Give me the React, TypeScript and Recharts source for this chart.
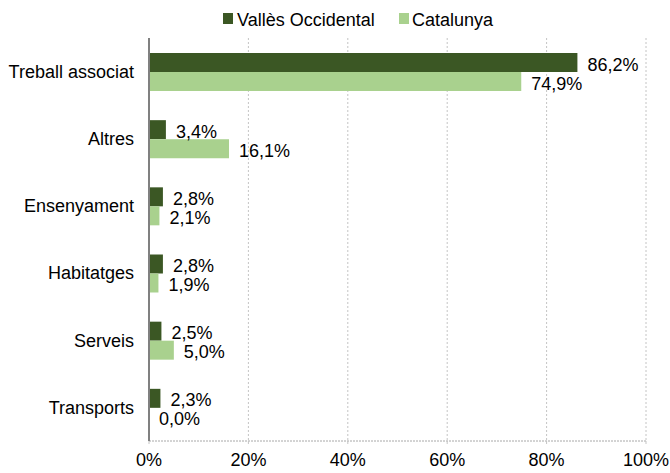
import React from 'react';
import { BarChart, Bar, XAxis, YAxis, CartesianGrid, Legend, LabelList } from 'recharts';

const categories = ['Treball associat', 'Altres', 'Ensenyament', 'Habitatges', 'Serveis', 'Transports'];
const vallesValues = [86.2, 3.4, 2.8, 2.8, 2.5, 2.3];
const catalunyaValues = [74.9, 16.1, 2.1, 1.9, 5.0, 0.0];
const xTicks = [0, 20, 40, 60, 80, 100];
const seriesNames = ['Vallès Occidental', 'Catalunya'];

const DARK = '#3b5724';
const LIGHT = '#a9d18e';
const FONT = '"Liberation Sans", Arial, sans-serif';

const data = categories.map((name, i) => ({
  name,
  valles: vallesValues[i],
  catalunya: catalunyaValues[i],
}));

const fmt = (v: number) => v.toFixed(1).replace('.', ',') + '%';

const renderLabel = (props: any) => {
  const { x, y, width, height, value } = props;
  return (
    <text
      x={Number(x) + Number(width) + 10}
      y={Number(y) + Number(height) / 2 + 8}
      fontSize={18}
      fontFamily={FONT}
      fill="#000"
      textAnchor="start"
    >
      {fmt(Number(value))}
    </text>
  );
};

const renderLegend = () => (
  <svg width={670} height={32} style={{ display: 'block' }}>
    <rect x={223} y={13} width={10} height={11} fill={DARK} />
    <text x={237} y={26} fontSize={18} fontFamily={FONT} fill="#000">{seriesNames[0]}</text>
    <rect x={399} y={13} width={10} height={11} fill={LIGHT} />
    <text x={412} y={26} fontSize={18} fontFamily={FONT} fill="#000">{seriesNames[1]}</text>
  </svg>
);

export default function App() {
  return (
    <div style={{ position: 'absolute', left: 0, top: 0, background: '#fff' }}>
      <BarChart
        width={670}
        height={473}
        data={data}
        layout="vertical"
        margin={{ top: 38, right: 24, bottom: 0, left: 0 }}
        barGap={0}
      >
        <CartesianGrid horizontal={false} vertical={true} stroke="#c4c4c4" strokeDasharray="2 2" />
        <XAxis
          type="number"
          domain={[0, 100]}
          ticks={xTicks}
          tickFormatter={(v: number) => v + '%'}
          height={32}
          axisLine={{ stroke: '#a8a8a8', strokeDasharray: '2 1' }}
          tickLine={{ stroke: '#c4c4c4' }}
          tickSize={3}
          tickMargin={9}
          tick={{ fontSize: 18, fontFamily: FONT, fill: '#000' }}
          interval={0}
        />
        <YAxis
          type="category"
          dataKey="name"
          width={149}
          axisLine={{ stroke: '#808080', strokeWidth: 2 }}
          tickLine={false}
          tickSize={0}
          tickMargin={15}
          tick={{ fontSize: 18, fontFamily: FONT, fill: '#000' }}
          interval={0}
        />
        <Legend
          verticalAlign="middle"
          align="center"
          layout="horizontal"
          wrapperStyle={{ top: 0, left: 0, width: 670, height: 32 }}
          content={renderLegend}
        />
        <Bar dataKey="valles" name={seriesNames[0]} fill={DARK} barSize={19} isAnimationActive={false}>
          <LabelList dataKey="valles" content={renderLabel} />
        </Bar>
        <Bar dataKey="catalunya" name={seriesNames[1]} fill={LIGHT} barSize={19} minPointSize={0.01} isAnimationActive={false}>
          <LabelList dataKey="catalunya" content={renderLabel} />
        </Bar>
      </BarChart>
    </div>
  );
}
